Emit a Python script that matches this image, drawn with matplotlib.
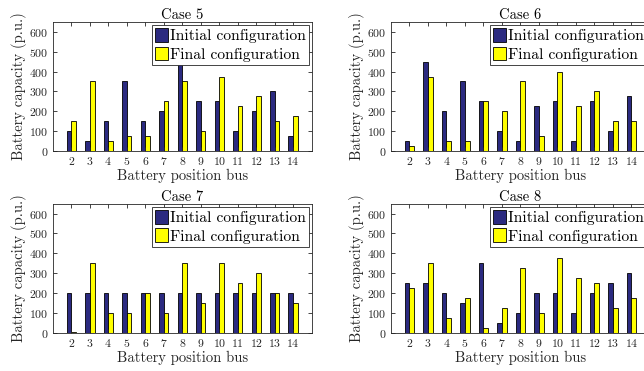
import matplotlib
matplotlib.use("Agg")
import matplotlib.pyplot as plt
import numpy as np

plt.rcParams["font.family"] = "serif"
plt.rcParams["font.serif"] = ["cmr10", "DejaVu Serif"]
plt.rcParams["axes.formatter.use_mathtext"] = True

BUSES = [2, 3, 4, 5, 6, 7, 8, 9, 10, 11, 12, 13, 14]

CASE5_INITIAL = [100, 50, 150, 350, 150, 200, 450, 250, 250, 100, 200, 300, 75]
CASE5_FINAL = [150, 350, 50, 75, 75, 250, 350, 100, 375, 225, 275, 150, 175]

CASE6_INITIAL = [50, 450, 200, 350, 250, 100, 50, 225, 250, 50, 250, 100, 275]
CASE6_FINAL = [25, 375, 50, 50, 250, 200, 350, 75, 400, 225, 300, 150, 150]

CASE7_INITIAL = [200, 200, 200, 200, 200, 200, 200, 200, 200, 200, 200, 200, 200]
CASE7_FINAL = [4, 350, 100, 100, 200, 100, 350, 150, 350, 250, 300, 200, 150]

CASE8_INITIAL = [250, 250, 200, 150, 350, 50, 100, 200, 200, 100, 200, 250, 300]
CASE8_FINAL = [225, 350, 75, 175, 25, 125, 325, 100, 375, 275, 250, 125, 175]

CASES = [
    ("Case 5", CASE5_INITIAL, CASE5_FINAL),
    ("Case 6", CASE6_INITIAL, CASE6_FINAL),
    ("Case 7", CASE7_INITIAL, CASE7_FINAL),
    ("Case 8", CASE8_INITIAL, CASE8_FINAL),
]

INITIAL_COLOR = "#2b2a80"
FINAL_COLOR = "#ffff00"
AXIS_GRAY = "#262626"

# axes boxes in figure fractions (the right column runs off the figure edge)
POSITIONS = [
    [0.082, 0.593, 0.402, 0.348],
    [0.607, 0.593, 0.402, 0.348],
    [0.082, 0.103, 0.402, 0.348],
    [0.607, 0.103, 0.402, 0.348],
]


def draw_case(ax, title, initial, final):
    x = np.array(BUSES)
    w = 0.25
    ax.bar(x - 0.13, initial, w, color=INITIAL_COLOR, edgecolor="black", linewidth=0.6,
           label="Initial configuration")
    ax.bar(x + 0.13, final, w, color=FINAL_COLOR, edgecolor="black", linewidth=0.6,
           label="Final configuration")
    ax.set_xlim(1, 15)
    ax.set_ylim(0, 650)
    ax.set_xticks(BUSES)
    ax.set_yticks(range(0, 601, 100))
    ax.tick_params(direction="in", top=True, right=True, length=3, width=0.6,
                   labelsize=8.5, colors=AXIS_GRAY, pad=3)
    for spine in ax.spines.values():
        spine.set_color(AXIS_GRAY)
        spine.set_linewidth(0.6)
    ax.set_title(title, fontsize=10.5, pad=2)
    ax.set_xlabel("Battery position bus", fontsize=10.5, color=AXIS_GRAY, labelpad=1)
    ax.set_ylabel("Battery capacity (p.u.)", fontsize=10.5, color=AXIS_GRAY, labelpad=2)
    leg = ax.legend(loc="upper right", fontsize=11.2, fancybox=False, framealpha=1,
                    edgecolor=AXIS_GRAY, borderaxespad=0.2, handlelength=0.85,
                    handleheight=1.0, handletextpad=0.1, borderpad=0.2, labelspacing=0.2)
    leg.get_frame().set_linewidth(0.6)
    leg.set_zorder(10)


def main() -> None:
    fig = plt.figure(figsize=(6.44, 3.71), dpi=100)
    for pos, (title, initial, final) in zip(POSITIONS, CASES):
        ax = fig.add_axes(pos)
        draw_case(ax, title, initial, final)
    fig.savefig("out.png", dpi=100)
    plt.close(fig)


if __name__ == "__main__":
    main()
